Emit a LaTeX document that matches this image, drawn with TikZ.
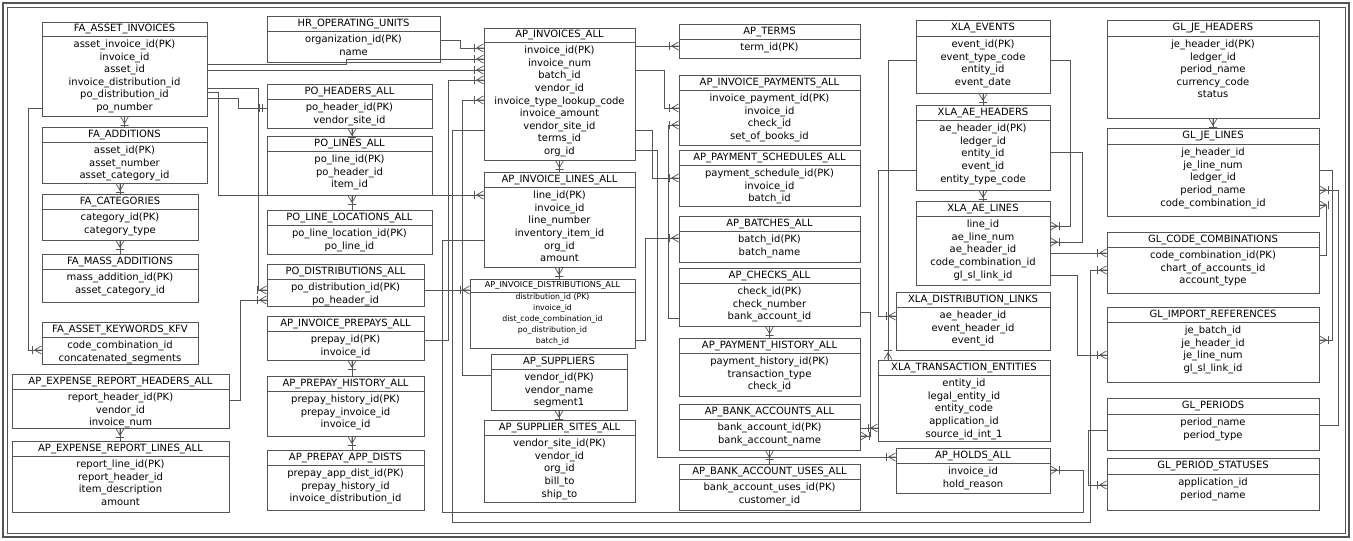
\documentclass[tikz,border=0pt]{standalone}
\usepackage{fontspec}
\setmainfont{DejaVu Sans}
\usetikzlibrary{calc}
\pgfarrowsdeclare{crow}{crow}{\pgfarrowsleftextend{-10pt}\pgfarrowsrightextend{0.5pt}}{
 \pgfsetdash{}{0pt}\pgfsetroundjoin
 \pgfpathmoveto{\pgfpoint{-7pt}{0pt}}\pgfpathlineto{\pgfpoint{0pt}{4pt}}
 \pgfpathmoveto{\pgfpoint{-7pt}{0pt}}\pgfpathlineto{\pgfpoint{0pt}{-4pt}}
 \pgfpathmoveto{\pgfpoint{-7pt}{0pt}}\pgfpathlineto{\pgfpoint{0pt}{0pt}}
 \pgfpathmoveto{\pgfpoint{-9pt}{4pt}}\pgfpathlineto{\pgfpoint{-9pt}{-4pt}}
 \pgfusepathqstroke}
\pgfarrowsdeclare{dbar}{dbar}{\pgfarrowsleftextend{-8pt}\pgfarrowsrightextend{0.5pt}}{
 \pgfsetdash{}{0pt}
 \pgfpathmoveto{\pgfpoint{-4pt}{4pt}}\pgfpathlineto{\pgfpoint{-4pt}{-4pt}}
 \pgfpathmoveto{\pgfpoint{-7pt}{4pt}}\pgfpathlineto{\pgfpoint{-7pt}{-4pt}}
 \pgfusepathqstroke}
\definecolor{ln}{HTML}{555555}
\newcommand\tb[9][]{%
 \pgfmathsetmacro\tw{#4-#3}\pgfmathsetmacro\hh{#6-#5}\pgfmathsetmacro\bh{#7-#6}%
 \node[hd,minimum width=\tw pt,minimum height=\hh pt] (#2-h) at ({(#3+#4)/2},{(#5+#6)/2}) {#8};
 \node[bd,minimum width=\tw pt,minimum height=\bh pt] (#2) at ({(#3+#4)/2},{(#6+#7)/2}) {};
 \node[txt,#1,anchor=north] (#2-t) at (#2.north) {#9};}
\begin{document}
\begin{tikzpicture}[x=1pt,y=-1pt,
 hd/.style={draw=ln,line width=0.8pt,inner sep=0pt,outer sep=0pt,fill=white,font=\fontsize{10}{11}\selectfont},
 bd/.style={draw=ln,line width=0.8pt,inner sep=0pt,outer sep=0pt,fill=white},
 txt/.style={inner sep=0pt,outer sep=0pt,align=center,text depth=0pt,yshift=-4pt,font=\fontsize{10}{12.6}\selectfont},
 small/.style={yshift=2pt,font=\fontsize{7.8}{10.8}\selectfont},
 rel/.style={draw=ln,line width=0.7pt,-crow},
 one/.style={draw=ln,line width=0.7pt,-dbar}]
\fill[white] (0,0) rectangle (1353,541);
\draw[ln,line width=1.6pt] (3,3) rectangle (1349,537);
\draw[ln,line width=0.6pt] (7,7) rectangle (1345,533);
% tables
\tb{fai}{42}{207}{22}{36}{116}{FA\_ASSET\_INVOICES}{asset\_invoice\_id(PK)\\invoice\_id\\asset\_id\\invoice\_distribution\_id\\po\_distribution\_id\\po\_number}
\tb{fad}{42}{207}{127}{142}{183}{FA\_ADDITIONS}{asset\_id(PK)\\asset\_number\\asset\_category\_id}
\tb{fcat}{42}{198}{194}{209}{240}{FA\_CATEGORIES}{category\_id(PK)\\category\_type}
\tb{fma}{42}{198}{254}{269}{302}{FA\_MASS\_ADDITIONS}{mass\_addition\_id(PK)\\asset\_category\_id}
\tb{fkw}{42}{198}{322}{337}{364}{FA\_ASSET\_KEYWORDS\_KFV}{code\_combination\_id\\concatenated\_segments}
\tb{erh}{12}{229}{374}{389}{428}{AP\_EXPENSE\_REPORT\_HEADERS\_ALL}{report\_header\_id(PK)\\vendor\_id\\invoice\_num}
\tb{erl}{12}{229}{441}{456}{512}{AP\_EXPENSE\_REPORT\_LINES\_ALL}{report\_line\_id(PK)\\report\_header\_id\\item\_description\\amount}
\tb{hr}{267}{440}{16}{31}{62}{HR\_OPERATING\_UNITS}{organization\_id(PK)\\name}
\tb{poh}{267}{432}{84}{99}{128}{PO\_HEADERS\_ALL}{po\_header\_id(PK)\\vendor\_site\_id}
\tb{pol}{267}{432}{136}{151}{195}{PO\_LINES\_ALL}{po\_line\_id(PK)\\po\_header\_id\\item\_id}
\tb{poll}{267}{432}{210}{225}{254}{PO\_LINE\_LOCATIONS\_ALL}{po\_line\_location\_id(PK)\\po\_line\_id}
\tb{pod}{267}{424}{264}{279}{306}{PO\_DISTRIBUTIONS\_ALL}{po\_distribution\_id(PK)\\po\_header\_id}
\tb{aip}{267}{424}{316}{331}{360}{AP\_INVOICE\_PREPAYS\_ALL}{prepay\_id(PK)\\invoice\_id}
\tb{aph}{267}{424}{376}{391}{436}{AP\_PREPAY\_HISTORY\_ALL}{prepay\_history\_id(PK)\\prepay\_invoice\_id\\invoice\_id}
\tb{apad}{267}{424}{450}{465}{510}{AP\_PREPAY\_APP\_DISTS}{prepay\_app\_dist\_id(PK)\\prepay\_history\_id\\invoice\_distribution\_id}
\tb{inv}{484}{635}{28}{42}{160}{AP\_INVOICES\_ALL}{invoice\_id(PK)\\invoice\_num\\batch\_id\\vendor\_id\\invoice\_type\_lookup\_code\\invoice\_amount\\vendor\_site\_id\\terms\_id\\org\_id}
\tb{invl}{484}{635}{172}{187}{267}{AP\_INVOICE\_LINES\_ALL}{line\_id(PK)\\invoice\_id\\line\_number\\inventory\_item\_id\\org\_id\\amount}
\tb[small]{invd}{470}{635}{279}{292}{348}{\fontsize{8.2}{10}\selectfont AP\_INVOICE\_DISTRIBUTIONS\_ALL}{distribution\_id (PK)\\invoice\_id\\dist\_code\_combination\_id\\po\_distribution\_id\\batch\_id}
\tb{sup}{491}{627}{354}{369}{410}{AP\_SUPPLIERS}{vendor\_id(PK)\\vendor\_name\\segment1}
\tb{sites}{484}{635}{420}{435}{502}{AP\_SUPPLIER\_SITES\_ALL}{vendor\_site\_id(PK)\\vendor\_id\\org\_id\\bill\_to\\ship\_to}
\tb{terms}{679}{860}{24}{39}{58}{AP\_TERMS}{term\_id(PK)}
\tb{pay}{679}{860}{75}{90}{145}{AP\_INVOICE\_PAYMENTS\_ALL}{invoice\_payment\_id(PK)\\invoice\_id\\check\_id\\set\_of\_books\_id}
\tb{sch}{679}{860}{150}{165}{206}{AP\_PAYMENT\_SCHEDULES\_ALL}{payment\_schedule\_id(PK)\\invoice\_id\\batch\_id}
\tb{bat}{679}{860}{216}{231}{262}{AP\_BATCHES\_ALL}{batch\_id(PK)\\batch\_name}
\tb{chk}{679}{860}{268}{283}{326}{AP\_CHECKS\_ALL}{check\_id(PK)\\check\_number\\bank\_account\_id}
\tb{ph}{679}{860}{338}{353}{396}{AP\_PAYMENT\_HISTORY\_ALL}{payment\_history\_id(PK)\\transaction\_type\\check\_id}
\tb{ba}{679}{860}{404}{419}{450}{AP\_BANK\_ACCOUNTS\_ALL}{bank\_account\_id(PK)\\bank\_account\_name}
\tb{bau}{679}{860}{464}{479}{510}{AP\_BANK\_ACCOUNT\_USES\_ALL}{bank\_account\_uses\_id(PK)\\customer\_id}
\tb{xev}{916}{1050}{20}{36}{93}{XLA\_EVENTS}{event\_id(PK)\\event\_type\_code\\entity\_id\\event\_date}
\tb{aeh}{916}{1050}{105}{120}{190}{XLA\_AE\_HEADERS}{ae\_header\_id(PK)\\ledger\_id\\entity\_id\\event\_id\\entity\_type\_code}
\tb{ael}{916}{1050}{201}{216}{285}{XLA\_AE\_LINES}{line\_id\\ae\_line\_num\\ae\_header\_id\\code\_combination\_id\\gl\_sl\_link\_id}
\tb{xdl}{896}{1050}{292}{307}{350}{XLA\_DISTRIBUTION\_LINKS}{ae\_header\_id\\event\_header\_id\\event\_id}
\tb{xte}{878}{1050}{360}{375}{441}{XLA\_TRANSACTION\_ENTITIES}{entity\_id\\legal\_entity\_id\\entity\_code\\application\_id\\source\_id\_int\_1}
\tb{hold}{896}{1050}{448}{463}{493}{AP\_HOLDS\_ALL}{invoice\_id\\hold\_reason}
\tb{jeh}{1107}{1319}{20}{36}{118}{GL\_JE\_HEADERS}{je\_header\_id(PK)\\ledger\_id\\period\_name\\currency\_code\\status}
\tb{jel}{1107}{1319}{128}{144}{216}{GL\_JE\_LINES}{je\_header\_id\\je\_line\_num\\ledger\_id\\period\_name\\code\_combination\_id}
\tb{gcc}{1107}{1319}{232}{247}{293}{GL\_CODE\_COMBINATIONS}{code\_combination\_id(PK)\\chart\_of\_accounts\_id\\account\_type}
\tb{gir}{1107}{1319}{307}{322}{382}{GL\_IMPORT\_REFERENCES}{je\_batch\_id\\je\_header\_id\\je\_line\_num\\gl\_sl\_link\_id}
\tb{gp}{1107}{1319}{398}{414}{450}{GL\_PERIODS}{period\_name\\period\_type}
\tb{gps}{1107}{1319}{458}{474}{510}{GL\_PERIOD\_STATUSES}{application\_id\\period\_name}
% vertical links
\draw[rel] (fad-h.north) -- (fai.south);
\draw[rel] (fcat-h.north -| 120,0) -- (fad.south -| 120,0);
\draw[rel] (fma-h.north -| 120,0) -- (fcat.south -| 120,0);
\draw[rel] (erl-h.north -| 120,0) -- (erh.south -| 120,0);
\draw[rel] (pol-h.north -| 352,0) -- (poh.south -| 352,0);
\draw[rel] (poll-h.north -| 352,0) -- (pol.south -| 352,0);
\draw[rel] (aph-h.north -| 352,0) -- (aip.south -| 352,0);
\draw[rel] (apad-h.north -| 352,0) -- (aph.south -| 352,0);
\draw[rel] (invl-h.north) -- (inv.south);
\draw[rel] (invd-h.north -| 559,0) -- (invl.south -| 559,0);
\draw[rel] (sites-h.north -| 559,0) -- (sup.south -| 559,0);
\draw[rel] (ph-h.north) -- (chk.south);
\draw[rel] (aeh-h.north) -- (xev.south);
\draw[rel] (ael-h.north) -- (aeh.south);
\draw[rel] (jel-h.north) -- (jeh.south);
% left side
\draw[rel] (fai.west|-0,108) -- (28,108) |- (fkw.west|-0,350);
\draw[one] (fai.east|-0,98) -- (238,98) |- (poh.west|-0,108);
\draw[rel] (fai.east|-0,88) -- (258,88) |- (pod.west|-0,290);
\draw[rel] (fai.east|-0,70) -- (inv.west|-0,70);
\draw[rel] (fai.east|-0,64) -- (346,64) |- (inv.west|-0,59);
\draw[rel] (hr.east|-0,40) -- (460,40) |- (inv.west|-0,48);
\draw[rel] (fai.east|-0,92) -- (218,92) |- (invl.west|-0,195);
\draw[rel] (pod.east|-0,290) -- (invd.west|-0,290);
\draw[rel] (aip.east|-0,340) -- (448,340) |- (inv.west|-0,80);
\draw[rel] (erh.east|-0,400) -- (240,400) |- (pod.west|-0,300);
\draw[rel] (sup.west|-0,375) -- (462,375) |- (inv.west|-0,100);
% centre right
\draw[rel] (inv.east|-0,46) -- (terms.west|-0,46);
\draw[rel] (inv.east|-0,70) -- (664,70) |- (pay.west|-0,108);
\draw[rel] (inv.east|-0,130) -- (652,130) |- (sch.west|-0,178);
\draw[rel] (invd.east|-0,340) -- (645,340) |- (bat.west|-0,238);
\draw[rel] (inv.east|-0,150) -- (657,150) |- (hold.west|-0,457);
\draw[rel] (chk.west|-0,318) -- (668,318) |- (pay.west|-0,125);
\draw[rel] (ba.east|-0,428) -- (xte.west|-0,428);
\draw[rel] (chk.east|-0,312) -- (870,312) |- (ba.east|-0,436);
\draw[rel] (bau-h.north) -- (ba.south);
% XLA
\draw[rel] (aeh.west|-0,170) -- (878,170) |- (xdl.west|-0,316);
\draw[rel] (xev.west|-0,60) -- (888,60) -- (xte-h.north -| 888,0);
\draw[rel] (aeh.east|-0,152) -- (1082,152) |- (ael.east|-0,242);
\draw[rel] (xev.east|-0,60) -- (1070,60) |- (ael.east|-0,226);
\draw[rel] (ael.east|-0,253) -- (gcc.west|-0,253);
\draw[rel] (ael.east|-0,275) -- (1077,275) |- (gir.west|-0,355);
% GL
\draw[rel] (gcc.east|-0,255) -- (1326,255) |- (jel.east|-0,205);
\draw[rel] (jel.east|-0,170) -- (1332,170) |- (gir.east|-0,340);
\draw[rel] (gp.east|-0,425) -- (1338,425) |- (jel.east|-0,190);
\draw[rel] (gp.west|-0,430) -- (1088,430) |- (gps.west|-0,485);
% long loops
\draw[rel] (inv.west|-0,130) -- (452,130) |- (1090,522) |- (gcc.west|-0,270);
\draw[rel] (invl.west|-0,240) -- (442,240) |- (1083,512) |- (hold.east|-0,470);
\end{tikzpicture}
\end{document}
